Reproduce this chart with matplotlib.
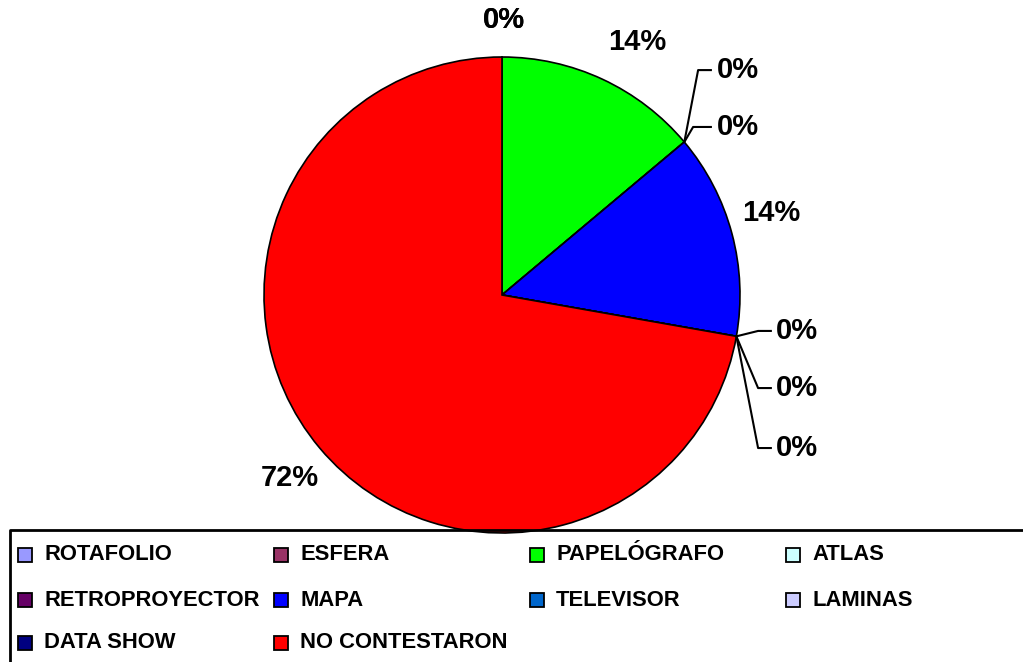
import numpy as np
import matplotlib.pyplot as plt
from matplotlib.patches import Rectangle

categories = ["ROTAFOLIO", "ESFERA", "PAPELÓGRAFO", "ATLAS", "RETROPROYECTOR",
              "MAPA", "TELEVISOR", "LAMINAS", "DATA SHOW", "NO CONTESTARON"]
values = [0, 0, 5, 0, 0, 5, 0, 0, 0, 26]
colors = ["#9999FF", "#993366", "#00FF00", "#CCFFFF", "#660066",
          "#0000FF", "#0066CC", "#CCCCFF", "#000080", "#FF0000"]

plt.rcParams['font.family'] = ['Liberation Sans', 'DejaVu Sans']
plt.rcParams['font.weight'] = 'bold'

W, H = 1023, 662
fig = plt.figure(figsize=(W / 100, H / 100), dpi=100)

# pie axes: centre (502, 295) px, radius 238 px
cx, cy, r = 502, 295, 238
ax = fig.add_axes([(cx - r) / W, (H - cy - r) / H, 2 * r / W, 2 * r / H])
ax.pie(values, colors=colors, startangle=90, counterclock=False, radius=1,
       wedgeprops=dict(edgecolor='black', linewidth=1.2))
ax.set_xlim(-1, 1)
ax.set_ylim(-1, 1)
ax.set_aspect('equal')
ax.axis('off')

total = float(sum(values))
pct = [f"{round(100 * v / total):.0f}%" for v in values]
cum = np.cumsum([0] + values[:-1])
mid_ang = [np.deg2rad(90 - 360 * (c + v / 2) / total) for c, v in zip(cum, values)]

fs = 21
# plain labels: centre position in radius units
plain = {0: (0.01, 1.155), 1: (0.01, 1.155), 2: (0.567, 1.063),
         5: (1.13, 0.345), 9: (-0.891, -0.769)}
# leader labels: (text left x, y, bend x, line end x)
leader = {3: (0.903, 0.945, 0.824, 0.882),
          4: (0.903, 0.706, 0.803, 0.882),
          6: (1.151, -0.151, 1.076, 1.134),
          7: (1.151, -0.391, 1.076, 1.134),
          8: (1.151, -0.643, 1.076, 1.134)}

for i, (lx, ly) in plain.items():
    ax.text(lx, ly, pct[i], ha='center', va='center', fontsize=fs,
            fontweight='bold', clip_on=False)
for i, (tx, ty, bx, ex) in leader.items():
    a = mid_ang[i]
    ax.plot([np.cos(a), bx, ex], [np.sin(a), ty, ty], color='black', lw=1.5,
            clip_on=False, solid_capstyle='butt')
    ax.text(tx, ty, pct[i], ha='left', va='center', fontsize=fs,
            fontweight='bold', clip_on=False)

# legend drawn by hand, 4 columns filled row-wise
col_x = [18, 274, 530, 786]
row_y = [555, 600, 643]
fig.add_artist(plt.Line2D([10 / W, 10 / W, 1.0], [0.0, 1 - 530 / H, 1 - 530 / H],
                          transform=fig.transFigure, color='black', lw=2))
for i, (name, c) in enumerate(zip(categories, colors)):
    row, col = divmod(i, 4)
    x0, y0 = col_x[col], row_y[row]
    fig.add_artist(Rectangle((x0 / W, 1 - (y0 + 7) / H), 14 / W, 14 / H,
                             transform=fig.transFigure, facecolor=c,
                             edgecolor='black', lw=1.3))
    fig.text((x0 + 26) / W, 1 - y0 / H, name, ha='left', va='center',
             fontsize=15.8, fontweight='bold')

fig.savefig("out.png", dpi=100)
